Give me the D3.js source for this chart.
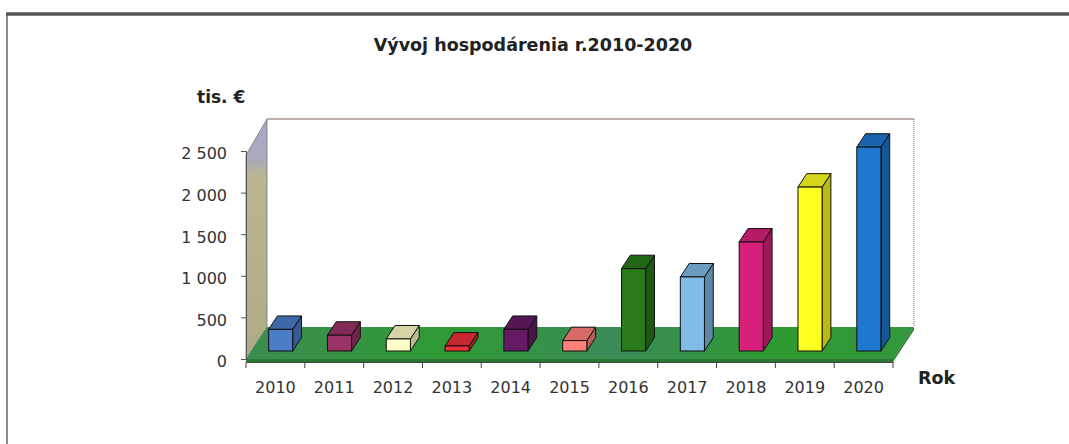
<!DOCTYPE html>
<html>
<head>
<meta charset="utf-8">
<script src="https://cdn.jsdelivr.net/npm/d3@7"></script>
<style>
  body { margin: 0; background: #fff; }
  text { font-family: "DejaVu Sans", Verdana, sans-serif; }
</style>
</head>
<body>
<svg></svg>
<script>
var width = 1069;
var height = 444;

// data (tis. €)
var years = ["2010", "2011", "2012", "2013", "2014", "2015", "2016", "2017", "2018", "2019", "2020"];
var values = [260, 190, 145, 60, 260, 125, 990, 890, 1310, 1970, 2450];
var barColors = ["#4a7cc8", "#993366", "#ffffc8", "#ec3038", "#661a66", "#ff8078",
                 "#2a7a1c", "#80bce6", "#d8207a", "#ffff20", "#1f78d0"];
var yTicks = [0, 500, 1000, 1500, 2000, 2500];

var DX = 21, DY = 32;      // depth offset of the whole box
var z0 = 0.25, dz = 0.42;  // where bars sit in depth

var svg = d3.select("svg")
    .attr("width", width)
    .attr("height", height);

var defs = svg.append("defs");
var wallGrad = defs.append("linearGradient").attr("id", "wall")
    .attr("x1", 0).attr("y1", 0).attr("x2", 0).attr("y2", 1);
wallGrad.append("stop").attr("offset", "0%").attr("stop-color", "#a6a8c6");
wallGrad.append("stop").attr("offset", "17%").attr("stop-color", "#aaaabc");
wallGrad.append("stop").attr("offset", "24%").attr("stop-color", "#b8b690");
wallGrad.append("stop").attr("offset", "100%").attr("stop-color", "#aeac84");

var floorGrad = defs.append("linearGradient").attr("id", "floor")
    .attr("x1", 0).attr("y1", 0).attr("x2", 1).attr("y2", 0);
floorGrad.append("stop").attr("offset", "0%").attr("stop-color", "#3a8c50");
floorGrad.append("stop").attr("offset", "30%").attr("stop-color", "#2f9a34");
floorGrad.append("stop").attr("offset", "55%").attr("stop-color", "#3a8c58");
floorGrad.append("stop").attr("offset", "80%").attr("stop-color", "#2e9a30");
floorGrad.append("stop").attr("offset", "100%").attr("stop-color", "#33963c");

// frame
svg.append("line").attr("x1", 7).attr("x2", 7).attr("y1", 13).attr("y2", height)
    .attr("stroke", "#8c8c8c").attr("stroke-width", 2);
svg.append("line").attr("x1", 6).attr("x2", width).attr("y1", 14).attr("y2", 14)
    .attr("stroke", "#555").attr("stroke-width", 3.5);

var x = d3.scaleBand()
    .domain(years)
    .range([246, 893])
    .paddingInner(0.59)
    .paddingOuter(0.295);

var xCat = d3.scaleBand()
    .domain(years)
    .range([246, 893]);

var y = d3.scaleLinear()
    .domain([0, 2500])
    .range([359, 151]);

var x0 = xCat.range()[0], x1 = xCat.range()[1];
var yb = y(0), yt = y(2500);

// back wall
svg.append("polygon")
    .attr("points", [[x0 + DX, yt - DY], [x1 + DX, yt - DY], [x1 + DX, yb - DY], [x0 + DX, yb - DY]].join(" "))
    .attr("fill", "#fff");
svg.append("path")
    .attr("d", `M${x0 + DX},${yt - DY}H${x1 + DX}`)
    .attr("stroke", "#b09494").attr("stroke-width", 1.5).attr("fill", "none");
svg.append("path")
    .attr("d", `M${x1 + DX},${yt - DY}V${yb - DY}`)
    .attr("stroke", "#777").attr("stroke-width", 1).attr("stroke-dasharray", "1,1").attr("fill", "none");

// side wall
svg.append("polygon")
    .attr("points", [[x0, yb], [x0, yt + 4], [x0 + DX, yt - DY], [x0 + DX, yb - DY]].join(" "))
    .attr("fill", "url(#wall)")
    .attr("stroke", "#777").attr("stroke-width", 0.8);

// floor
svg.append("polygon")
    .attr("points", [[x0, yb], [x1, yb], [x1 + DX, yb - DY], [x0 + DX, yb - DY]].join(" "))
    .attr("fill", "url(#floor)");
svg.append("polygon")
    .attr("points", [[x0, yb], [x1, yb], [x1 + DX, yb - DY], [x1 + DX, yb - DY + 3], [x1, yb + 3], [x0, yb + 3]].join(" "))
    .attr("fill", "#2a7a34");

// y axis
var fmt = d3.formatLocale({ decimal: ",", thousands: " ", grouping: [3], currency: ["", " €"] }).format(",");
var yAxis = svg.append("g")
    .attr("transform", `translate(${x0},0)`)
    .call(d3.axisLeft(y).tickValues(yTicks).tickFormat(fmt).tickSize(5).tickPadding(14));
yAxis.select(".domain").attr("stroke", "#555");
yAxis.selectAll(".tick line").attr("stroke", "#555");
yAxis.selectAll("text")
    .attr("dy", "0.49em")
    .style("font-size", "16px")
    .attr("fill", "#333");

// x axis
var xAxis = svg.append("g")
    .attr("transform", `translate(0,${yb + 3})`)
    .call(d3.axisBottom(xCat).tickSize(0).tickPadding(20));
xAxis.select(".domain").attr("stroke", "#444").attr("stroke-width", 1.2);
xAxis.selectAll("text").style("font-size", "16px").attr("fill", "#333");
xAxis.selectAll(".bound")
    .data(years.concat(["end"]))
    .enter()
    .append("line")
        .classed("bound", true)
        .attr("x1", (d, i) => x0 + i * xCat.step())
        .attr("x2", (d, i) => x0 + i * xCat.step())
        .attr("y1", 0)
        .attr("y2", 6)
        .attr("stroke", "#444");

// bars
var w = x.bandwidth();
var bx = dz * DX, by = dz * DY;
var bars = svg.append("g").selectAll("g")
    .data(years.map((d, i) => ({ year: d, value: values[i], color: barColors[i] })))
    .enter()
    .append("g");

bars.each(function(d) {
    var g = d3.select(this);
    var left = x(d.year) + z0 * DX;
    var bot = y(0) - z0 * DY;
    var top = y(d.value) - z0 * DY;
    var c = d3.color(d.color);
    g.append("polygon")
        .attr("points", [[left + w, bot], [left + w, top], [left + w + bx, top - by], [left + w + bx, bot - by]].join(" "))
        .attr("fill", c.darker(0.9))
        .attr("stroke", "#111").attr("stroke-width", 1);
    g.append("polygon")
        .attr("points", [[left, top], [left + w, top], [left + w + bx, top - by], [left + bx, top - by]].join(" "))
        .attr("fill", c.darker(0.5))
        .attr("stroke", "#111").attr("stroke-width", 1);
    g.append("rect")
        .attr("x", left)
        .attr("y", top)
        .attr("width", w)
        .attr("height", bot - top)
        .attr("fill", d.color)
        .attr("stroke", "#111").attr("stroke-width", 1);
});

// titles
svg.append("text")
    .attr("x", 533)
    .attr("y", 51)
    .attr("text-anchor", "middle")
    .style("font-size", "17.5px")
    .style("font-weight", "bold")
    .attr("fill", "#222")
    .text("Vývoj hospodárenia r.2010-2020");

svg.append("text")
    .attr("x", 197)
    .attr("y", 103)
    .style("font-size", "17px")
    .style("font-weight", "bold")
    .attr("fill", "#222")
    .text("tis. €");

svg.append("text")
    .attr("x", 918)
    .attr("y", 384)
    .style("font-size", "17.5px")
    .style("font-weight", "bold")
    .attr("fill", "#222")
    .text("Rok");
</script>
</body>
</html>
